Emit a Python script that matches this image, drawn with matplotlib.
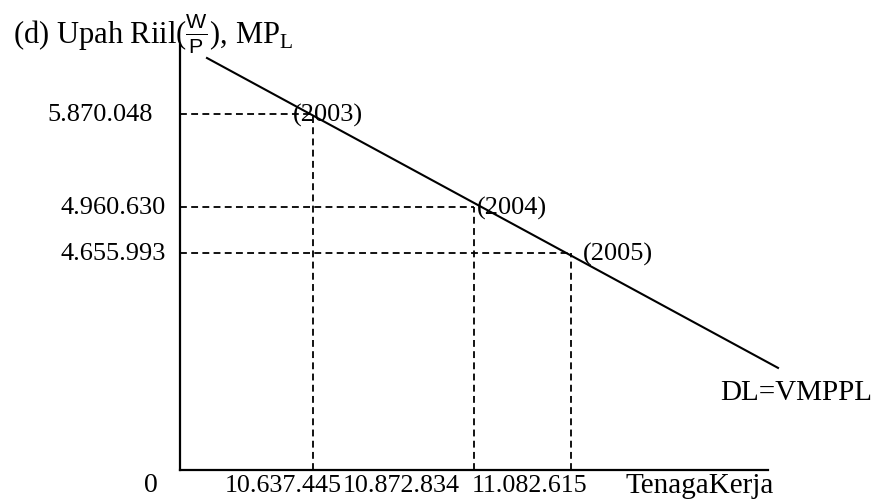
import matplotlib
matplotlib.use("Agg")
import matplotlib.pyplot as plt
import numpy as np

plt.rcParams['font.family'] = ['Liberation Serif', 'DejaVu Serif']
plt.rcParams['mathtext.fontset'] = 'custom'
plt.rcParams['mathtext.rm'] = 'Liberation Serif'
plt.rcParams['mathtext.sf'] = 'Liberation Sans'

# values (schematic diagram, not to scale)
years = ["(2003)", "(2004)", "(2005)"]
labor_labels = ["10.637.445", "10.872.834", "11.082.615"]
wage_labels = ["5.870.048", "4.960.630", "4.655.993"]
# schematic positions of the three points in the diagram
labor_pos = np.array([133, 294, 391])
wage_pos = np.array([356, 263, 217])

fig = plt.figure(figsize=(8.75, 4.99), dpi=100)
ax = fig.add_axes([180 / 875, 29 / 499, 600 / 875, 425 / 499])
ax.set_xlim(0, 600)
ax.set_ylim(0, 425)
for s in ["top", "right"]:
    ax.spines[s].set_visible(False)
ax.spines["left"].set_linewidth(1.6)
ax.spines["bottom"].set_linewidth(1.6)
ax.spines["bottom"].set_bounds(0, 588)
ax.set_xticks([])
ax.set_yticks([])
ax.patch.set_alpha(0)

# demand line DL = VMPPL through the points
b, a = np.polyfit(labor_pos, wage_pos, 1)
xs = np.array([27, 598])
ax.plot(xs, a + b * xs, color="black", lw=1.5, clip_on=False)

dash = (0, (3.8, 2.4))
for i in range(3):
    ax.plot([0, labor_pos[i]], [wage_pos[i], wage_pos[i]], color="black",
            lw=1.3, ls=dash)
    ax.plot([labor_pos[i], labor_pos[i]], [0, wage_pos[i]], color="black",
            lw=1.3, ls=dash)

# year labels next to the points
year_dx = [-20, 3, 12]
for i in range(3):
    ax.text(labor_pos[i] + year_dx[i], wage_pos[i] - 1, years[i],
            ha="left", va="center", fontsize=19)

# wage labels on the left
wage_x = [-27, -14, -14]
for i in range(3):
    ax.text(wage_x[i], wage_pos[i] - 1, wage_labels[i], ha="right",
            va="center", fontsize=19, clip_on=False)

# labour labels under the axis
labor_x = [45, 163, 292]
for i in range(3):
    ax.text(labor_x[i], -16, labor_labels[i], ha="left", va="center",
            fontsize=18.7, clip_on=False)

ax.text(-29, -15, "0", ha="center", va="center", fontsize=20, clip_on=False)
ax.text(445, -16, "TenagaKerja", ha="left", va="center", fontsize=21, clip_on=False)
ax.text(540, 77, "DL=VMPPL", ha="left", va="center", fontsize=21, clip_on=False)

fig.text(13 / 875, 1 - 44 / 499, r"(d) Upah Riil($\frac{\mathbf{\mathsf{W}}}{\mathsf{P}}$), MP$_{\mathrm{L}}$",
         ha="left", va="baseline", fontsize=22)

fig.savefig("out.png", dpi=100)
